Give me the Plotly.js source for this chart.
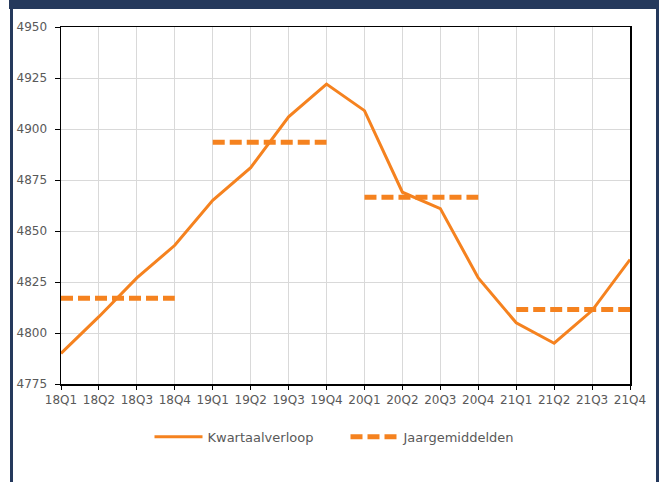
<!DOCTYPE html>
<html>
<head>
<meta charset="utf-8">
<script src="https://cdn.plot.ly/plotly-3.0.1.min.js"></script>
<style>
  html, body { margin: 0; padding: 0; background: #ffffff; }
  #wrap { position: relative; width: 659px; height: 482px; overflow: hidden; }
  #chart { position: absolute; left: 0; top: 0; width: 659px; height: 482px; }
  .bar { position: absolute; background: #25395c; }
</style>
</head>
<body>
<div id="wrap">
  <div id="chart"></div>
  <div class="bar" style="left:9px; top:0; width:650px; height:9px;"></div>
  <div class="bar" style="left:10px; top:0; width:3px; height:482px;"></div>
  <div class="bar" style="left:656px; top:0; width:3px; height:482px;"></div>
</div>
<script>
const quarters = ['18Q1','18Q2','18Q3','18Q4','19Q1','19Q2','19Q3','19Q4',
                  '20Q1','20Q2','20Q3','20Q4','21Q1','21Q2','21Q3','21Q4'];
const quarterly = [4790, 4808, 4827, 4843, 4865, 4881, 4906, 4922,
                   4909, 4869, 4861, 4827, 4805, 4795, 4811, 4836];
const yearLabels = ['2018','2019','2020','2021'];
const yearAverages = [4817, 4893.5, 4866.5, 4811.5];
const seriesNames = ['Kwartaalverloop', 'Jaargemiddelden'];

const orange = '#f5821f';

// build annual average segments (break between years)
const avgX = [], avgY = [];
yearLabels.forEach((yr, i) => {
  const qs = quarters.slice(i * 4, i * 4 + 4);
  qs.forEach(q => { avgX.push(q); avgY.push(yearAverages[i]); });
  if (i < yearLabels.length - 1) { avgX.push(qs[3]); avgY.push(null); }
});

const traces = [
  {
    x: quarters, y: quarterly, type: 'scatter', mode: 'lines',
    name: seriesNames[0],
    line: { color: orange, width: 3 }
  },
  {
    x: avgX, y: avgY, type: 'scatter', mode: 'lines',
    name: seriesNames[1], connectgaps: false,
    line: { color: orange, width: 5, dash: '12px,5px' }
  }
];

const tickFont = { family: 'DejaVu Sans, sans-serif', size: 12, color: '#595959' };

const layout = {
  width: 659, height: 482,
  margin: { l: 61, r: 29, t: 27, b: 98 },
  paper_bgcolor: '#ffffff', plot_bgcolor: '#ffffff',
  showlegend: true,
  legend: {
    orientation: 'h', x: 0.5, xanchor: 'center', y: -0.148, yanchor: 'middle',
    font: { family: 'DejaVu Sans, sans-serif', size: 13, color: '#595959' },
    itemwidth: 48, entrywidth: 133, entrywidthmode: 'pixels'
  },
  xaxis: {
    type: 'category', categoryorder: 'array', categoryarray: quarters,
    range: [0, quarters.length - 1],
    showgrid: true, gridcolor: '#d9d9d9', gridwidth: 1,
    showline: true, linecolor: '#000000', linewidth: 1.5, mirror: true,
    ticks: 'outside', ticklen: 4, tickcolor: '#000000', tickwidth: 1,
    tickfont: tickFont, zeroline: false, fixedrange: true
  },
  yaxis: {
    range: [4775, 4950], dtick: 25, tick0: 4775,
    showgrid: true, gridcolor: '#d9d9d9', gridwidth: 1,
    showline: true, linecolor: '#000000', linewidth: 1.5, mirror: true,
    ticks: 'outside', ticklen: 5, tickcolor: '#000000', tickwidth: 1,
    ticklabelstandoff: 5,
    tickfont: tickFont, zeroline: false, fixedrange: true
  }
};

Plotly.newPlot('chart', traces, layout, { displayModeBar: false, staticPlot: true });
</script>
</body>
</html>
